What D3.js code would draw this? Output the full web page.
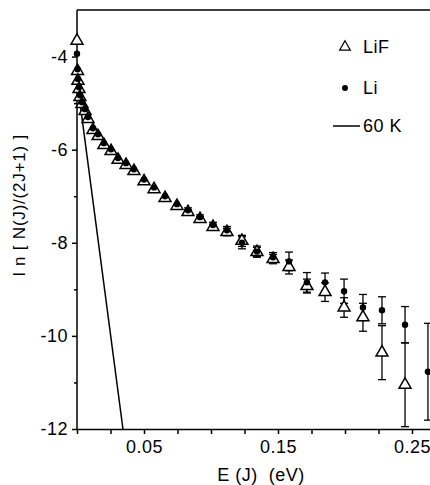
<!DOCTYPE html>
<meta charset="utf-8">
<style>
body { margin: 0; background: #fff; }
svg { font-family: "Liberation Sans", Arial, sans-serif; }
.axis path, .axis line { stroke: #000; stroke-width: 1.5px; }
.axis text { font-size: 18px; fill: #000; letter-spacing: 0.5px; }
</style>
<svg width="430" height="485"></svg>
<script src="https://d3js.org/d3.v7.min.js"></script>
<script>

// energies E(J) in eV, shared by both series
let energy = [0.0000, 0.0004, 0.0007, 0.0015, 0.0022, 0.0037, 0.0060, 0.0082, 0.0119, 0.0157,
              0.0201, 0.0254, 0.0306, 0.0366, 0.0425, 0.0500, 0.0575, 0.0657, 0.0746, 0.0828,
              0.0918, 0.1015, 0.1119, 0.1231, 0.1343, 0.1463, 0.1582, 0.1716, 0.1851, 0.1993,
              0.2134, 0.2276, 0.2448, 0.2619];

// ln[N(J)/(2J+1)] for LiF (open triangles), null = not shown
let lifValues = [-3.66, -4.31, -4.52, -4.70, -4.87, -5.02, -5.17, -5.34, -5.58, -5.71,
                 -5.90, -6.03, -6.22, -6.33, -6.46, -6.68, -6.85, -7.04, -7.21, -7.34,
                 -7.49, -7.66, -7.77, -7.96, -8.20, -8.35, -8.52, -8.93, -9.06, -9.39,
                 -9.60, -10.36, -11.05, null];
let lifErrors = [0, 0, 0, 0, 0, 0, 0, 0, 0, 0,
                 0, 0, 0, 0, 0, 0, 0, 0, 0, 0.05,
                 0.05, 0.06, 0.08, 0.12, 0.10, 0.10, 0.15, 0.15, 0.20, 0.21,
                 0.30, 0.58, 0.90, 0];

// ln[N(J)/(2J+1)] for Li (filled dots)
let liValues = [-3.94, -4.27, -4.48, -4.66, -4.83, -4.98, -5.13, -5.30, -5.54, -5.67,
                -5.86, -5.99, -6.18, -6.29, -6.42, -6.64, -6.81, -7.00, -7.17, -7.30,
                -7.45, -7.62, -7.73, -8.00, -8.19, -8.31, -8.40, -8.85, -8.85, -9.04,
                -9.39, -9.45, -9.76, -10.77];
let liErrors = [0, 0, 0, 0, 0, 0, 0, 0, 0, 0,
                0, 0, 0, 0, 0, 0, 0, 0, 0, 0.05,
                0.05, 0.06, 0.08, 0.13, 0.12, 0.10, 0.20, 0.21, 0.20, 0.26,
                0.28, 0.29, 0.39, 1.04];

// 60 K Boltzmann line
let lineE = [0.0, 0.0343];
let lineLn = [-4.5, -12];

let xTicks = [0.025, 0.05, 0.075, 0.1, 0.125, 0.15, 0.175, 0.2, 0.225, 0.25];
let xLabels = {0.05: "0.05", 0.15: "0.15", 0.25: "0.25"};
let yTicks = [-4, -5, -6, -7, -8, -9, -10, -11, -12];

let svg = d3.select("svg");

let x = d3.scaleLinear().domain([0, 0.27]).range([77, 77 + 0.27 * 1340]);
let y = d3.scaleLinear().domain([-12, -3]).range([429, 10]);

let lif = energy.map((e, i) => ({E: e, v: lifValues[i], err: lifErrors[i]})).filter(d => d.v !== null);
let li = energy.map((e, i) => ({E: e, v: liValues[i], err: liErrors[i]}));

// frame: top line
svg.append("line")
    .attr("x1", x(0)).attr("x2", 440)
    .attr("y1", y(-3)).attr("y2", y(-3))
    .attr("stroke", "#000").attr("stroke-width", 1.5);

// axes
svg.append("g")
    .attr("class", "axis")
    .attr("transform", "translate(0," + y(-12) + ")")
    .call(d3.axisBottom(x).tickValues(xTicks).tickSizeOuter(0).tickSize(5).tickPadding(6)
        .tickFormat(d => xLabels[d] || ""));

let yAxis = svg.append("g")
    .attr("class", "axis")
    .attr("transform", "translate(" + x(0) + ",0)")
    .call(d3.axisLeft(y).tickValues(yTicks).tickSizeOuter(0).tickSize(4).tickPadding(5)
        .tickFormat(d => d % 2 === 0 ? d : ""));
yAxis.selectAll(".tick line").attr("x2", d => d % 2 === 0 ? -5 : -3);
yAxis.select(".domain").attr("d", "M0," + y(-3) + "V" + y(-12));

// axis titles
svg.append("text")
    .attr("transform", "translate(25,205) rotate(-90)")
    .attr("text-anchor", "middle")
    .style("font-size", "17px")
    .style("letter-spacing", "0.8px")
    .text("l n [ N(J)/(2J+1) ]");

svg.append("text")
    .attr("x", 261).attr("y", 481)
    .attr("text-anchor", "middle")
    .style("font-size", "18px")
    .style("letter-spacing", "0.5px")
    .text("E (J)\u00a0\u00a0(eV)");

let plot = svg.append("g");

// 60 K line
plot.append("path")
    .datum(lineE.map((e, i) => [e, lineLn[i]]))
    .attr("d", d3.line().x(d => x(d[0])).y(d => y(d[1])))
    .attr("fill", "none").attr("stroke", "#000").attr("stroke-width", 1.5);

// error bars
function errorBars(data) {
    let g = plot.append("g").attr("stroke", "#000").attr("stroke-width", 1.3);
    let withErr = data.filter(d => d.err > 0);
    g.selectAll(".v").data(withErr).enter().append("line")
        .attr("x1", d => x(d.E)).attr("x2", d => x(d.E))
        .attr("y1", d => y(d.v + d.err)).attr("y2", d => y(Math.max(d.v - d.err, -12)));
    g.selectAll(".top").data(withErr).enter().append("line")
        .attr("x1", d => x(d.E) - 4).attr("x2", d => x(d.E) + 4)
        .attr("y1", d => y(d.v + d.err)).attr("y2", d => y(d.v + d.err));
    g.selectAll(".bot").data(withErr.filter(d => d.v - d.err > -12)).enter().append("line")
        .attr("x1", d => x(d.E) - 4).attr("x2", d => x(d.E) + 4)
        .attr("y1", d => y(d.v - d.err)).attr("y2", d => y(d.v - d.err));
}
errorBars(lif);
errorBars(li);

let tri = d3.symbol().type(d3.symbolTriangle).size(62);

plot.selectAll(".lif").data(lif).enter().append("path")
    .attr("class", "lif")
    .attr("d", tri)
    .attr("transform", d => "translate(" + x(d.E) + "," + y(d.v) + ")")
    .attr("fill", "#fff").attr("stroke", "#000").attr("stroke-width", 1.5);

plot.selectAll(".li").data(li).enter().append("circle")
    .attr("class", "li")
    .attr("cx", d => x(d.E)).attr("cy", d => y(d.v))
    .attr("r", 3.2)
    .attr("fill", "#000");

// legend
let legend = svg.append("g").style("font-size", "18px").style("letter-spacing", "0.5px");
legend.append("path")
    .attr("d", d3.symbol().type(d3.symbolTriangle).size(50))
    .attr("transform", "translate(345,47)")
    .attr("fill", "none").attr("stroke", "#000").attr("stroke-width", 1.2);
legend.append("text").attr("x", 363).attr("y", 53).text("LiF");
legend.append("circle").attr("cx", 345).attr("cy", 88).attr("r", 3).attr("fill", "#000");
legend.append("text").attr("x", 363).attr("y", 94).text("Li");
legend.append("line").attr("x1", 333).attr("x2", 360).attr("y1", 126).attr("y2", 126)
    .attr("stroke", "#000").attr("stroke-width", 1.5);
legend.append("text").attr("x", 363).attr("y", 132).text("60 K");

</script>
